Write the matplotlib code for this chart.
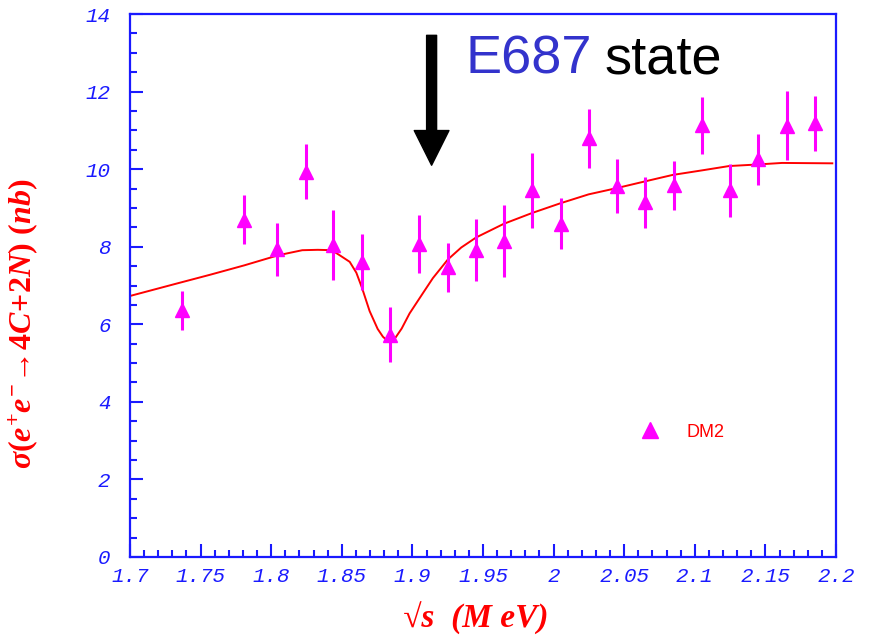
import matplotlib
matplotlib.use('Agg')
import matplotlib.pyplot as plt
from matplotlib.lines import Line2D
from matplotlib.ticker import MultipleLocator

# DM2 points
sqrt_s = [1.737, 1.781, 1.804, 1.825, 1.844, 1.864, 1.884, 1.905, 1.925, 1.945, 1.965,
          1.985, 2.005, 2.025, 2.045, 2.065, 2.085, 2.105, 2.125, 2.145, 2.165, 2.185]
sigma = [6.36, 8.70, 7.93, 9.93, 8.05, 7.61, 5.73, 8.07, 7.47, 7.91, 8.15,
         9.45, 8.59, 10.80, 9.56, 9.14, 9.58, 11.13, 9.45, 10.25, 11.12, 11.18]
sigma_err = [0.50, 0.63, 0.69, 0.71, 0.90, 0.72, 0.71, 0.74, 0.63, 0.80, 0.92,
             0.96, 0.66, 0.76, 0.70, 0.66, 0.64, 0.74, 0.68, 0.66, 0.89, 0.70]

# fitted curve
fit_x = [1.700, 1.732, 1.757, 1.781, 1.805, 1.822, 1.833, 1.843, 1.8506, 1.8556, 1.8603,
         1.8643, 1.8697, 1.8754, 1.8791, 1.8815, 1.8839, 1.8862, 1.8881, 1.8924, 1.898,
         1.9074, 1.9145, 1.9251, 1.9346, 1.9452, 1.9647, 1.9848, 2.0048, 2.0248, 2.0446,
         2.0654, 2.0842, 2.1054, 2.1243, 2.1443, 2.1618, 2.1974]
fit_y = [6.73, 7.04, 7.28, 7.52, 7.78, 7.91, 7.92, 7.91, 7.73, 7.61, 7.33,
         6.94, 6.34, 5.88, 5.68, 5.60, 5.58, 5.60, 5.66, 5.89, 6.28,
         6.80, 7.19, 7.67, 7.98, 8.24, 8.59, 8.87, 9.12, 9.35, 9.51,
         9.69, 9.85, 9.97, 10.08, 10.12, 10.16, 10.15]

x_ticks = [1.7, 1.75, 1.8, 1.85, 1.9, 1.95, 2.0, 2.05, 2.1, 2.15, 2.2]
x_tick_labels = ['1.7', '1.75', '1.8', '1.85', '1.9', '1.95', '2', '2.05', '2.1', '2.15', '2.2']
y_ticks = [0, 2, 4, 6, 8, 10, 12, 14]

arrow_x = 1.9136
arrow_top, arrow_tip = 13.45, 10.1

blue = '#1a1aff'
magenta = '#ff00ff'

plt.rcParams['mathtext.fontset'] = 'custom'
plt.rcParams['mathtext.it'] = 'Liberation Serif:bold:italic'
plt.rcParams['mathtext.rm'] = 'Liberation Serif:bold'
plt.rcParams['mathtext.bf'] = 'Liberation Serif:bold'

fig = plt.figure(figsize=(8.82, 6.39), dpi=100)
ax = fig.add_axes([130/882, 1 - 557/639, 706/882, 543/639])

ax.plot(fit_x, fit_y, color='red', lw=1.4, zorder=2)
ax.errorbar(sqrt_s, sigma, yerr=sigma_err, fmt='^', color=magenta, ms=10,
            elinewidth=2.2, capsize=0, mec=magenta, zorder=3)

ax.set_xlim(1.7, 2.2)
ax.set_ylim(0, 14)
ax.set_xticks(x_ticks)
ax.set_xticklabels(x_tick_labels)
ax.set_yticks(y_ticks)
ax.xaxis.set_minor_locator(MultipleLocator(0.01))
ax.yaxis.set_minor_locator(MultipleLocator(0.5))
ax.tick_params(which='both', direction='in', color=blue, width=1.5,
               top=False, right=False, labelcolor=blue, labelsize=15)
ax.tick_params(which='major', length=9.5)
ax.tick_params(which='minor', length=5)
ax.tick_params(axis='x', pad=7)
ax.tick_params(axis='y', pad=14)
for lab in ax.get_xticklabels() + ax.get_yticklabels():
    lab.set_family('Liberation Mono')
    lab.set_style('italic')
for sp in ax.spines.values():
    sp.set_color(blue)
    sp.set_linewidth(1.6)

ax.set_ylabel(r'$\sigma(e^{+}e^{-}\!\rightarrow\!4C\!+\!2N)\ (nb)$', color='red', fontsize=23)
ax.yaxis.set_label_coords(-0.128, 0.43)
ax.set_xlabel('√s  (M eV)', color='red', fontsize=24, family='Liberation Serif',
              fontweight='bold', fontstyle='italic')
ax.xaxis.set_label_coords(0.49, -0.083)

# legend: triangle + DM2
handle = Line2D([], [], marker='^', color=magenta, ls='none', ms=11)
ax.legend([handle], ['DM2'], loc='center left', bbox_to_anchor=(0.688, 0.23),
          frameon=False, labelcolor='red', handletextpad=1.0,
          prop={'family': 'Liberation Sans', 'size': 13})

ax.annotate('', xy=(arrow_x, arrow_tip), xytext=(arrow_x, arrow_top),
            arrowprops=dict(arrowstyle='simple,head_width=2.5,head_length=2.5,tail_width=0.72',
                            color='black', shrinkA=0, shrinkB=0, mutation_scale=10))

fig.text(466/882, 1 - 74/639, 'E687', color='#3333cc', fontsize=39,
         family='Liberation Sans', va='baseline', ha='left')
fig.text(605/882, 1 - 74/639, 'state', color='black', fontsize=39,
         family='Liberation Sans', va='baseline', ha='left')

fig.savefig('out.png', dpi=100)
